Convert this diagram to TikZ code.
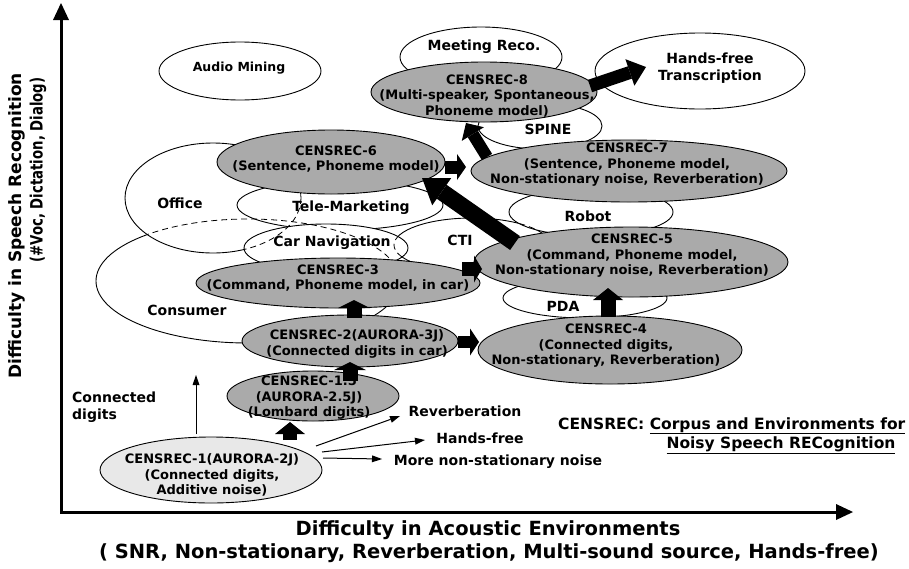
\documentclass[tikz,border=0pt]{standalone}
\usepackage{fontspec}
\setmainfont{DejaVu Sans}
\usepackage{graphicx}
\usetikzlibrary{arrows.meta,shapes.geometric}
\definecolor{cgray}{RGB}{170,170,170}
\definecolor{clight}{RGB}{232,232,232}
\begin{document}
\begin{tikzpicture}[x=1pt,y=-1pt,
  ell/.style n args={2}{ellipse,inner sep=0pt,line width=0.9pt,draw=black,minimum width=#1pt,minimum height=#2pt},
  wel/.style={fill=white},
  gel/.style={fill=cgray},
  lbl/.style={font=\fontsize{14}{17}\selectfont\bfseries,inner sep=0pt,align=center},
  ntx/.style={font=\fontsize{13}{15.5}\selectfont\bfseries,inner sep=0pt,align=center},
  hid/.style={line width=0.8pt,dash pattern=on 6pt off 4pt},
  blk/.style n args={3}{line width=#1pt,line cap=butt,-{Triangle[width=#2pt,length=#3pt,line width=0pt]}},
  thinarr/.style={line width=1pt,-{Triangle[width=7pt,length=10pt,line width=0pt]}},
  axis/.style={line width=3pt,line cap=rect,-{Triangle[width=16pt,length=17pt,line width=0pt]}}
]
\useasboundingbox (0,0) rectangle (909,568);

% axes
\coordinate (O) at (61,512);
\coordinate (ytop) at (61,3);
\coordinate (xend) at (853,512);
\draw[axis] (O) -- (ytop);
\draw[axis] (O) -- (xend);
\node[font=\fontsize{17}{17}\selectfont\bfseries,rotate=90,inner sep=0pt] (ylab1) at (17,226) {Difficulty in Speech Recognition};
\node[font=\fontsize{17}{17}\selectfont\bfseries,rotate=90,inner sep=0pt] (ylab2) at (38,170) {\scalebox{0.78}[1]{(\#Voc, Dictation, Dialog)}};
\node[font=\fontsize{19.5}{20}\selectfont\bfseries,inner sep=0pt] (xlab1) at (488,530) {Difficulty in Acoustic Environments};
\node[font=\fontsize{19.5}{20}\selectfont\bfseries,inner sep=0pt] (xlab2) at (489,553) {( SNR, Non-stationary, Reverberation, Multi-sound source, Hands-free)};

% white application ellipses
\node[ell={162}{58},wel] (audio) at (240,71) {};
\node[ell={162}{60},wel] (meet) at (481,57) {};
\node[ell={210}{76},wel] (hft) at (700,71) {};
\node[ell={124}{46},wel] (spine) at (540,126) {};
\node[ell={304}{124},wel] (cons) at (248,281) {};
\node[ell={176}{110},wel] (office) at (213,198) {};
\node[ell={206}{50},wel] (tele) at (340,205) {};
\node[ell={156}{54},wel] (cti) at (472,245) {};
\node[ell={164}{48},wel] (carnav) at (326,248) {};
\node[ell={164}{48},wel] (robot) at (591,212) {};
\node[ell={164}{40},wel] (pda) at (585,298) {};

% hidden outlines
\begin{scope}
  \clip (213,198) ellipse [x radius=88, y radius=55]
        (340,205) ellipse [x radius=103, y radius=25]
        (326,248) ellipse [x radius=82, y radius=24];
  \draw[hid] (248,281) ellipse [x radius=152, y radius=62];
\end{scope}
\begin{scope}
  \clip (340,205) ellipse [x radius=103, y radius=25]
        (326,248) ellipse [x radius=82, y radius=24];
  \draw[hid] (213,198) ellipse [x radius=88, y radius=55];
\end{scope}
\begin{scope}
  \clip (326,248) ellipse [x radius=82, y radius=24]
        (591,212) ellipse [x radius=82, y radius=24];
  \draw[hid] (472,245) ellipse [x radius=78, y radius=27];
\end{scope}

% CENSREC ellipses
\node[ell={226}{60},gel] (c8) at (484,92) {};
\node[ell={228}{64},gel] (c6) at (331,162) {};
\node[ell={316}{62},gel] (c7) at (629,171) {};
\node[ell={314}{70},gel] (c5) at (631,262) {};
\node[ell={264}{68},gel] (c4) at (610,350) {};
\node[ell={284}{50},gel] (c3) at (338,283) {};
\node[ell={216}{52},gel] (c2) at (350,341) {};
\node[ell={172}{50},gel] (c15) at (313,396) {};
\node[ell={222}{66},fill=clight] (c1) at (211,470) {};

% labels
\node[lbl,font=\fontsize{12.5}{15}\selectfont\bfseries] (audiot) at (239,68) {Audio Mining};
\node[lbl] (meett) at (484,47) {Meeting Reco.};
\node[lbl] (hftt) at (710,68) {Hands-free\\Transcription};
\node[lbl] (spinet) at (548,129) {SPINE};
\node[lbl] (officet) at (180,203) {Office};
\node[lbl] (telet) at (351,208) {Tele-Marketing};
\node[lbl] (carnavt) at (332,243) {Car Navigation};
\node[lbl] (ctit) at (460,240) {CTI};
\node[lbl] (robott) at (588,216) {Robot};
\node[lbl] (pdat) at (563,306) {PDA};
\node[lbl] (const) at (187,310) {Consumer};

\node[ntx] (c8t) at (487,96) {CENSREC-8\\(Multi-speaker, Spontaneous,\\Phoneme model)};
\node[ntx] (c6t) at (336,159) {CENSREC-6\\(Sentence, Phoneme model)};
\node[ntx] (c7t) at (627,165) {CENSREC-7\\(Sentence, Phoneme model,\\Non-stationary noise, Reverberation)};
\node[ntx] (c5t) at (632,256) {CENSREC-5\\(Command, Phoneme model,\\Non-stationary noise, Reverberation)};
\node[ntx] (c4t) at (606,346) {CENSREC-4\\(Connected digits,\\Non-stationary, Reverberation)};
\node[ntx] (c3t) at (338,278) {CENSREC-3\\(Command, Phoneme model, in car)};
\node[ntx] (c2t) at (357,344) {CENSREC-2(AURORA-3J)\\(Connected digits in car)};
\node[ntx] (c15t) at (309,398) {CENSREC-1.5\\(AURORA-2.5J)\\(Lombard digits)};
\node[ntx] (c1t) at (212,475) {CENSREC-1(AURORA-2J)\\(Connected digits,\\Additive noise)};

\node[lbl,align=left,anchor=west] (conn) at (72,407.5) {Connected\\digits};
\node[lbl] (rev) at (465,411) {Reverberation};
\node[lbl] (hf) at (480,438) {Hands-free};
\node[lbl] (mns) at (498,462) {More non-stationary noise};

\node[font=\fontsize{15.5}{18}\selectfont\bfseries,inner sep=0pt,anchor=base west] (leg1) at (558,429) {CENSREC: \underline{Corpus and Environments for}};
\node[font=\fontsize{15.5}{18}\selectfont\bfseries,inner sep=0pt,anchor=base] (leg2) at (781,448) {\underline{Noisy Speech RECognition}};

% thin arrows
\coordinate (upS) at (196,434);
\coordinate (upE) at (196,375);
\coordinate (r1S) at (316,446);
\coordinate (r1E) at (400,416);
\coordinate (r2S) at (322,452);
\coordinate (r2E) at (425,440);
\coordinate (r3S) at (323,458);
\coordinate (r3E) at (382,459);
\draw[thinarr] (upS) -- (upE);
\draw[thinarr] (r1S) -- (r1E);
\draw[thinarr] (r2S) -- (r2E);
\draw[thinarr] (r3S) -- (r3E);

% block arrows
\coordinate (a1S) at (290,440); \coordinate (a1E) at (290,422);
\coordinate (a2S) at (350,381); \coordinate (a2E) at (350,362);
\coordinate (a3S) at (354,318); \coordinate (a3E) at (354,300);
\coordinate (a4S) at (458,342); \coordinate (a4E) at (479,342);
\coordinate (a5S) at (462,269); \coordinate (a5E) at (482,269);
\coordinate (a6S) at (608,317); \coordinate (a6E) at (608,288);
\coordinate (a7S) at (515,243); \coordinate (a7E) at (422,178);
\coordinate (a8S) at (445,167); \coordinate (a8E) at (466,167);
\coordinate (a9S) at (487,157); \coordinate (a9E) at (466,123);
\coordinate (a10S) at (590,86); \coordinate (a10E) at (646,67);
\draw[blk={14}{30}{12}] (a1S) -- (a1E);
\draw[blk={15}{32}{8}] (a2S) -- (a2E);
\draw[blk={15}{32}{8}] (a3S) -- (a3E);
\draw[blk={12}{27}{9}] (a4S) -- (a4E);
\draw[blk={14}{27}{8}] (a5S) -- (a5E);
\draw[blk={15}{30}{12}] (a6S) -- (a6E);
\draw[blk={17}{33}{24}] (a7S) -- (a7E);
\draw[blk={13}{26}{9}] (a8S) -- (a8E);
\draw[blk={12}{26}{13}] (a9S) -- (a9E);
\draw[blk={13}{28}{17}] (a10S) -- (a10E);
\end{tikzpicture}
\end{document}
